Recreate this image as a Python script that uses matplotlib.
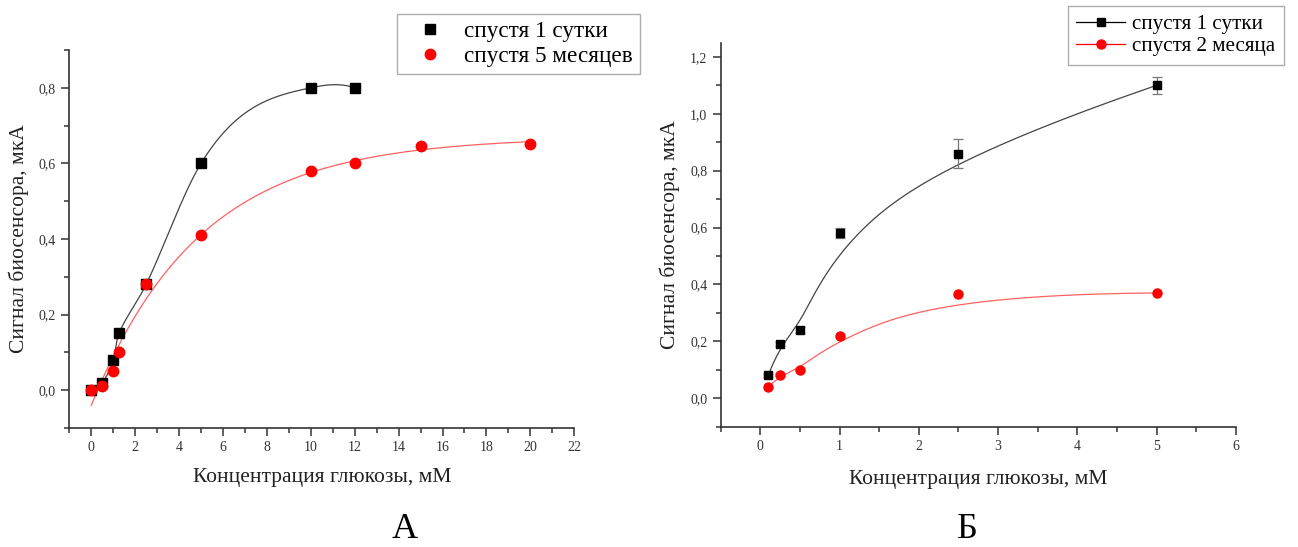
import numpy as np
import matplotlib
matplotlib.use("Agg")
import matplotlib.pyplot as plt
from matplotlib.ticker import MultipleLocator, FuncFormatter

plt.rcParams['font.family'] = ['Liberation Serif', 'DejaVu Serif']

# --- данные (панель А) ---
conc_a1 = [0, 0.5, 1, 1.25, 2.5, 5, 10, 12]
sig_a1 = [0, 0.02, 0.08, 0.15, 0.28, 0.60, 0.80, 0.80]
conc_a2 = [0, 0.5, 1, 1.25, 2.5, 5, 10, 12, 15, 20]
sig_a2 = [0, 0.01, 0.05, 0.10, 0.28, 0.41, 0.58, 0.60, 0.645, 0.65]
labels_a = ["спустя 1 сутки", "спустя 5 месяцев"]

# --- данные (панель Б) ---
conc_b = [0.1, 0.25, 0.5, 1, 2.5, 5]
sig_b1 = [0.08, 0.19, 0.24, 0.58, 0.86, 1.10]
err_b1 = [0.005, 0.008, 0.01, 0.018, 0.05, 0.03]
sig_b2 = [0.04, 0.08, 0.10, 0.22, 0.365, 0.37]
labels_b = ["спустя 1 сутки", "спустя 2 месяца"]


def akima(x, y, n=400):
    x = np.asarray(x, float); y = np.asarray(y, float)
    h = np.diff(x)
    m = np.diff(y) / h
    m = np.concatenate([[3 * m[0] - 2 * m[1], 2 * m[0] - m[1]], m,
                        [2 * m[-1] - m[-2], 3 * m[-1] - 2 * m[-2]]])
    w1 = np.abs(m[3:] - m[2:-1])
    w2 = np.abs(m[1:-2] - m[:-3])
    den = w1 + w2
    t = np.where(den > 1e-12,
                 (w1 * m[1:-2] + w2 * m[2:-1]) / np.where(den > 1e-12, den, 1),
                 0.5 * (m[1:-2] + m[2:-1]))
    xs = np.linspace(x[0], x[-1], n)
    k = np.clip(np.searchsorted(x, xs) - 1, 0, len(x) - 2)
    s = (xs - x[k]) / h[k]
    h00 = 2 * s ** 3 - 3 * s ** 2 + 1
    h10 = s ** 3 - 2 * s ** 2 + s
    h01 = -2 * s ** 3 + 3 * s ** 2
    h11 = s ** 3 - s ** 2
    return xs, h00 * y[k] + h10 * h[k] * t[k] + h01 * y[k + 1] + h11 * h[k] * t[k + 1]


def bspline(x, y, n=300, p=3):
    P = np.column_stack([x, y]).astype(float)
    m = len(P)
    inner = np.linspace(0, 1, m - p + 1)
    knots = np.concatenate([[0] * p, inner, [1] * p])
    u = np.linspace(0, 1 - 1e-9, n)
    N = np.zeros((n, len(knots) - 1))
    for i in range(len(knots) - 1):
        N[:, i] = (u >= knots[i]) & (u < knots[i + 1])
    for d in range(1, p + 1):
        Nn = np.zeros((n, len(knots) - 1 - d))
        for i in range(len(knots) - 1 - d):
            a = knots[i + d] - knots[i]
            b = knots[i + d + 1] - knots[i + 1]
            t1 = (u - knots[i]) / a * N[:, i] if a > 0 else 0
            t2 = (knots[i + d + 1] - u) / b * N[:, i + 1] if b > 0 else 0
            Nn[:, i] = t1 + t2
        N = Nn
    C = N @ P
    return C[:, 0], C[:, 1]


def exp_fit(x, y):
    # y = a + b*exp(-x/t), t по сетке, a и b — МНК
    x = np.asarray(x, float); y = np.asarray(y, float)
    best = None
    for t in np.linspace(1, 15, 281):
        M = np.column_stack([np.ones_like(x), np.exp(-x / t)])
        c, *_ = np.linalg.lstsq(M, y, rcond=None)
        err = np.sum((M @ c - y) ** 2)
        if best is None or err < best[0]:
            best = (err, t, c)
    return best[1], best[2]


comma = FuncFormatter(lambda v, pos: ("%g" % v).replace(".", ","))
comma1 = FuncFormatter(lambda v, pos: ("%.1f" % v).replace(".", ","))
ax_col = '#333333'


def style(ax):
    ax.spines['top'].set_visible(False)
    ax.spines['right'].set_visible(False)
    for s in ['left', 'bottom']:
        ax.spines[s].set_color(ax_col)
        ax.spines[s].set_linewidth(1.2)
    ax.tick_params(which='major', length=6, width=1.1, color=ax_col,
                   labelsize=10, labelcolor='#333333')
    ax.tick_params(which='minor', length=3.5, width=1.1, color=ax_col)
    ax.yaxis.set_major_formatter(comma1)
    ax.xaxis.set_major_formatter(comma)


fig = plt.figure(figsize=(12.98, 5.47), dpi=100)

# ---------- панель А ----------
ax1 = fig.add_axes([0.0534, 0.2176, 0.389, 0.691])
xs, ys = akima(conc_a1, sig_a1)
ax1.plot(xs, ys, color='#444444', lw=0.9)
tau, cf = exp_fit(conc_a2, sig_a2)
xr = np.linspace(0, 20, 300)
ax1.plot(xr, cf[0] + cf[1] * np.exp(-xr / tau), color='#ff6060', lw=0.9)
ax1.plot(conc_a1, sig_a1, 's', color='black', ms=7, label=labels_a[0])
ax1.plot(conc_a2, sig_a2, 'o', color='red', ms=7.5, label=labels_a[1])
ax1.set_xlim(-1, 22)
ax1.set_ylim(-0.1, 0.9)
ax1.xaxis.set_major_locator(MultipleLocator(2))
ax1.xaxis.set_minor_locator(MultipleLocator(1))
ax1.yaxis.set_major_locator(MultipleLocator(0.2))
ax1.yaxis.set_minor_locator(MultipleLocator(0.1))
style(ax1)
ax1.set_xlabel("Концентрация глюкозы, мМ", fontsize=15.5, color='#222222')
ax1.set_ylabel("Сигнал биосенсора, мкА", fontsize=15.5, color='#222222')
ax1.yaxis.set_label_coords(-0.080, 0.5)
ax1.xaxis.set_label_coords(0.5, -0.106)
leg1 = ax1.legend(loc='upper left', bbox_to_anchor=(0.3059, 0.9744),
                  bbox_transform=fig.transFigure, fontsize=16.7, fancybox=False,
                  edgecolor='#999999', handlelength=2.2, handletextpad=0.4,
                  borderpad=0.3, labelspacing=0.15, borderaxespad=0)
leg1.get_frame().set_linewidth(1.0)

# ---------- панель Б ----------
ax2 = fig.add_axes([0.5552, 0.22, 0.397, 0.702])
bx, by = bspline(conc_b, sig_b1)
ax2.plot(bx, by, color='#444444', lw=0.9)
rx, ry = bspline(conc_b, sig_b2)
ax2.plot(rx, ry, color='#ff6060', lw=0.9)
ax2.errorbar(conc_b, sig_b1, yerr=err_b1, fmt='none', ecolor='#777777',
             elinewidth=0.9, capsize=3.5, capthick=0.9)
ax2.plot(conc_b, sig_b1, 's', color='black', ms=6)
ax2.plot(conc_b, sig_b2, 'o', color='red', ms=6.5)
h1, = ax2.plot([], [], '-s', color='black', ms=6, lw=0.9, label=labels_b[0])
h2, = ax2.plot([], [], '-o', color='red', ms=6.5, lw=0.9, label=labels_b[1])
ax2.set_xlim(-0.5, 6)
ax2.set_ylim(-0.1, 1.25)
ax2.xaxis.set_major_locator(MultipleLocator(1))
ax2.xaxis.set_minor_locator(MultipleLocator(0.5))
ax2.yaxis.set_major_locator(MultipleLocator(0.2))
ax2.yaxis.set_minor_locator(MultipleLocator(0.1))
style(ax2)
ax2.set_xlabel("Концентрация глюкозы, мМ", fontsize=15.5, color='#222222')
ax2.set_ylabel("Сигнал биосенсора, мкА", fontsize=15.5, color='#222222')
ax2.yaxis.set_label_coords(-0.079, 0.5)
ax2.xaxis.set_label_coords(0.5, -0.113)
leg2 = ax2.legend(handles=[h1, h2], loc='upper left',
                  bbox_to_anchor=(0.8228, 0.989), bbox_transform=fig.transFigure,
                  fontsize=15.2, fancybox=False, edgecolor='#999999',
                  handlelength=2.3, handletextpad=0.35, borderpad=0.4,
                  labelspacing=0.1, borderaxespad=0)
leg2.get_frame().set_linewidth(1.0)

fig.text(405 / 1298, 1 - 530 / 547, "А", fontsize=26, ha='center', va='center')
fig.text(967 / 1298, 1 - 530 / 547, "Б", fontsize=26, ha='center', va='center')

fig.savefig("out.png", dpi=100)
